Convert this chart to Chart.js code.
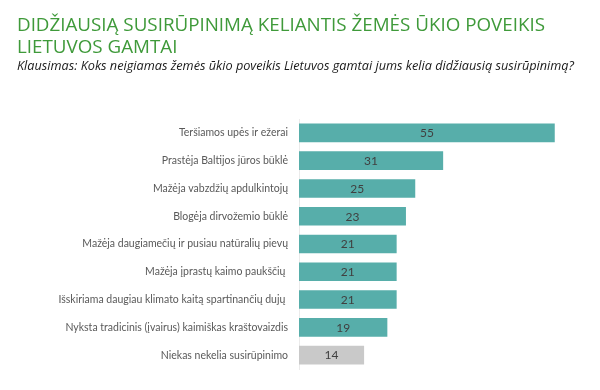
<!DOCTYPE html>
<html>
<head>
<meta charset="utf-8">
<script src="https://cdn.jsdelivr.net/npm/chart.js@4/dist/chart.umd.min.js"></script>
<style>
  html, body { margin: 0; padding: 0; background: #fff; }
  #wrap { position: relative; width: 600px; height: 390px; overflow: hidden; }
  #title {
    position: absolute; left: 17px; top: 13.4px;
    font-family: 'Open Sans', sans-serif; font-size: 18.8px; line-height: 22px;
    color: #3f9a3a; margin: 0; font-weight: normal;
  }
  #subtitle {
    position: absolute; left: 17px; top: 58.3px;
    font-family: 'Open Sans', sans-serif; font-size: 12.7px; line-height: 15px;
    font-style: italic; color: #1a1a1a; margin: 0;
  }
  canvas { position: absolute; left: 0; top: 0; }
</style>
</head>
<body>
<div id="wrap">
  <canvas id="chart" width="600" height="390"></canvas>
  <h1 id="title">DIDŽIAUSIĄ SUSIRŪPINIMĄ KELIANTIS ŽEMĖS ŪKIO POVEIKIS<br>LIETUVOS GAMTAI</h1>
  <p id="subtitle">Klausimas: Koks neigiamas žemės ūkio poveikis Lietuvos gamtai jums kelia didžiausią susirūpinimą?</p>
</div>
<script>
const categories = [
    'Teršiamos upės ir ežerai',
    'Prastėja Baltijos jūros būklė',
    'Mažėja vabzdžių apdulkintojų',
    'Blogėja dirvožemio būklė',
    'Mažėja daugiamečių ir pusiau natūralių pievų',
    'Mažėja įprastų kaimo paukščių ',
    'Išskiriama daugiau klimato kaitą spartinančių dujų ',
    'Nyksta tradicinis (įvairus) kaimiškas kraštovaizdis',
    'Niekas nekelia susirūpinimo',
];
const values = [55, 31, 25, 23, 21, 21, 21, 19, 14];
const barColors = ['#57aeaa', '#57aeaa', '#57aeaa', '#57aeaa', '#57aeaa', '#57aeaa', '#57aeaa', '#57aeaa', '#c9c9c9'];

const labelFont = "Lato, 'Open Sans', sans-serif";

const valueLabels = {
    id: 'valueLabels',
    afterDatasetsDraw(chart) {
        const ctx = chart.ctx;
        const meta = chart.getDatasetMeta(0);
        ctx.save();
        ctx.font = `12px ${labelFont}`;
        ctx.fillStyle = '#404040';
        ctx.textAlign = 'center';
        ctx.textBaseline = 'middle';
        meta.data.forEach((bar, i) => {
            const cx = (bar.x + bar.base) / 2;
            ctx.fillText(String(values[i]), cx, bar.y + 0.5);
        });
        ctx.restore();
    },
};

new Chart(document.getElementById('chart'), {
    type: 'bar',
    data: {
        labels: categories,
        datasets: [{
            data: values,
            backgroundColor: barColors,
            borderWidth: 0,
            barPercentage: 0.67,
            categoryPercentage: 1,
        }],
    },
    options: {
        indexAxis: 'y',
        responsive: false,
        animation: false,
        layout: { padding: { top: 119, bottom: 21, left: 0, right: 22 } },
        plugins: {
            legend: { display: false },
            tooltip: { enabled: false },
            title: { display: false },
        },
        scales: {
            x: {
                display: false,
                min: 0,
                max: 60,
            },
            y: {
                afterFit(scale) { scale.width = 299; },
                grid: { display: false, drawTicks: false },
                border: { display: true, color: '#ebebeb' },
                ticks: {
                    color: '#595959',
                    padding: 11,
                    font: { family: labelFont, size: 10.5 },
                },
            },
        },
    },
    plugins: [valueLabels],
});
</script>
</body>
</html>
